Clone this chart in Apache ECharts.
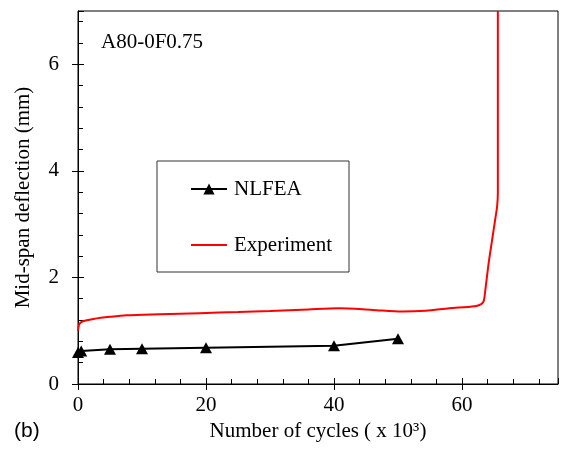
<!DOCTYPE html>
<html>
<head>
<meta charset="utf-8">
<script src="https://cdn.jsdelivr.net/npm/echarts@6/dist/echarts.min.js"></script>
<style>
  html, body { margin: 0; padding: 0; background: #fff; }
  #chart { width: 561px; height: 449px; }
</style>
</head>
<body>
<div id="chart"></div>
<script>
// Mid-span deflection vs. number of load cycles (thousands)
const nlfeaCycles = [0, 0.5, 5, 10, 20, 40, 50];
const nlfeaDefl   = [0.59, 0.62, 0.65, 0.66, 0.68, 0.72, 0.85];

const expCycles = [0, 0.1, 0.2, 0.5, 1.2, 2.4, 5, 7.6, 12.8, 19, 25, 30, 36, 40.8, 46, 50.7, 54.3, 58, 62, 63, 63.4, 63.7, 64.2, 64.7, 65.2, 65.5, 65.6, 65.6];
const expDefl   = [1.0, 1.08, 1.12, 1.16, 1.19, 1.22, 1.26, 1.29, 1.31, 1.33, 1.35, 1.37, 1.40, 1.42, 1.39, 1.36, 1.375, 1.42, 1.46, 1.50, 1.56, 1.82, 2.3, 2.7, 3.1, 3.35, 3.6, 7.0];

const xTicks = { min: 0, max: 75, major: 20, minor: 4 };
const yTicks = { min: 0, max: 7, major: 2, minor: 0.4 };

const pairs = (xs, ys) => xs.map((x, i) => [x, ys[i]]);

const SERIF = '"Liberation Serif", "Times New Roman", serif';
const gridBox = { left: 78, right: 3, top: 11, bottom: 65 };

function plainX(gridIndex, interval, len) {
  return {
    type: 'value', gridIndex, min: xTicks.min, max: xTicks.max, interval,
    axisLine: { show: false },
    axisTick: { show: true, inside: true, length: len, lineStyle: { color: '#000', width: 1 } },
    axisLabel: { show: false }, splitLine: { show: false }
  };
}
function plainY(gridIndex, interval, len) {
  return {
    type: 'value', gridIndex, min: yTicks.min, max: yTicks.max, interval,
    axisLine: { show: false },
    axisTick: { show: true, inside: true, length: len, lineStyle: { color: '#000', width: 1 } },
    axisLabel: { show: false }, splitLine: { show: false }
  };
}

const chart = echarts.init(document.getElementById('chart'), null, { renderer: 'canvas' });
chart.setOption({
  backgroundColor: '#fff',
  animation: false,
  textStyle: { fontFamily: SERIF, color: '#000' },
  grid: [
    Object.assign({ show: true, borderColor: '#000', borderWidth: 1, backgroundColor: 'transparent' }, gridBox),
    Object.assign({ show: false }, gridBox),
    Object.assign({ show: false }, gridBox)
  ],
  xAxis: [
    {
      type: 'value', gridIndex: 0, min: xTicks.min, max: xTicks.max, interval: xTicks.major,
      axisLine: { show: true, onZero: false, lineStyle: { color: '#000', width: 1 } },
      axisTick: { show: true, inside: false, length: 6, lineStyle: { color: '#000', width: 1 } },
      axisLabel: { fontSize: 21, color: '#000', fontFamily: SERIF, margin: 11, showMaxLabel: false },
      splitLine: { show: false },
      name: 'Number of cycles ( x 10\u00B3)',
      nameLocation: 'middle', nameGap: 33,
      nameTextStyle: { fontSize: 21, color: '#000', fontFamily: SERIF }
    },
    plainX(1, xTicks.minor, 5),
    plainX(2, xTicks.major, 6)
  ],
  yAxis: [
    {
      type: 'value', gridIndex: 0, min: yTicks.min, max: yTicks.max, interval: yTicks.major,
      axisLine: { show: true, onZero: false, lineStyle: { color: '#000', width: 1 } },
      axisTick: { show: true, inside: false, length: 6, lineStyle: { color: '#000', width: 1 } },
      axisLabel: { fontSize: 21, color: '#000', fontFamily: SERIF, margin: 19, showMaxLabel: false },
      splitLine: { show: false },
      name: 'Mid-span deflection (mm)',
      nameLocation: 'middle', nameGap: 44,
      nameTextStyle: { fontSize: 21, color: '#000', fontFamily: SERIF }
    },
    plainY(1, yTicks.minor, 5),
    plainY(2, yTicks.major, 6)
  ],
  legend: {
    orient: 'vertical',
    left: 190, top: 178,
    itemWidth: 36, itemHeight: 14, itemGap: 34,
    padding: 0,
    textStyle: { fontSize: 21, color: '#000', fontFamily: SERIF, lineHeight: 22, padding: [0, 0, 0, 2] },
    data: [
      { name: 'NLFEA' },
      { name: 'Experiment', itemStyle: { opacity: 0 } }
    ]
  },
  graphic: [
    {
      type: 'rect', z: 0,
      shape: { x: 157, y: 161, width: 192, height: 111 },
      style: { fill: '#fff', stroke: '#333', lineWidth: 1 }
    },
    {
      type: 'text', left: 101, top: 32,
      style: { text: 'A80-0F0.75', fontSize: 21, fontFamily: SERIF, fill: '#000' }
    },
    {
      type: 'text', left: 14, top: 421,
      style: { text: '(b)', fontSize: 21, fontFamily: '"Liberation Sans", Arial, sans-serif', fill: '#000' }
    }
  ],
  series: [
    {
      name: 'Experiment', type: 'line', xAxisIndex: 0, yAxisIndex: 0,
      data: pairs(expCycles, expDefl),
      symbol: 'none', smooth: 0.3,
      lineStyle: { color: '#ff0000', width: 2 },
      itemStyle: { color: '#ff0000' },
      clip: true, z: 3
    },
    {
      name: 'NLFEA', type: 'line', xAxisIndex: 0, yAxisIndex: 0,
      data: pairs(nlfeaCycles, nlfeaDefl),
      symbol: 'triangle', symbolSize: [12, 11],
      lineStyle: { color: '#000', width: 2 },
      itemStyle: { color: '#000' },
      z: 4
    }
  ]
});
</script>
</body>
</html>
